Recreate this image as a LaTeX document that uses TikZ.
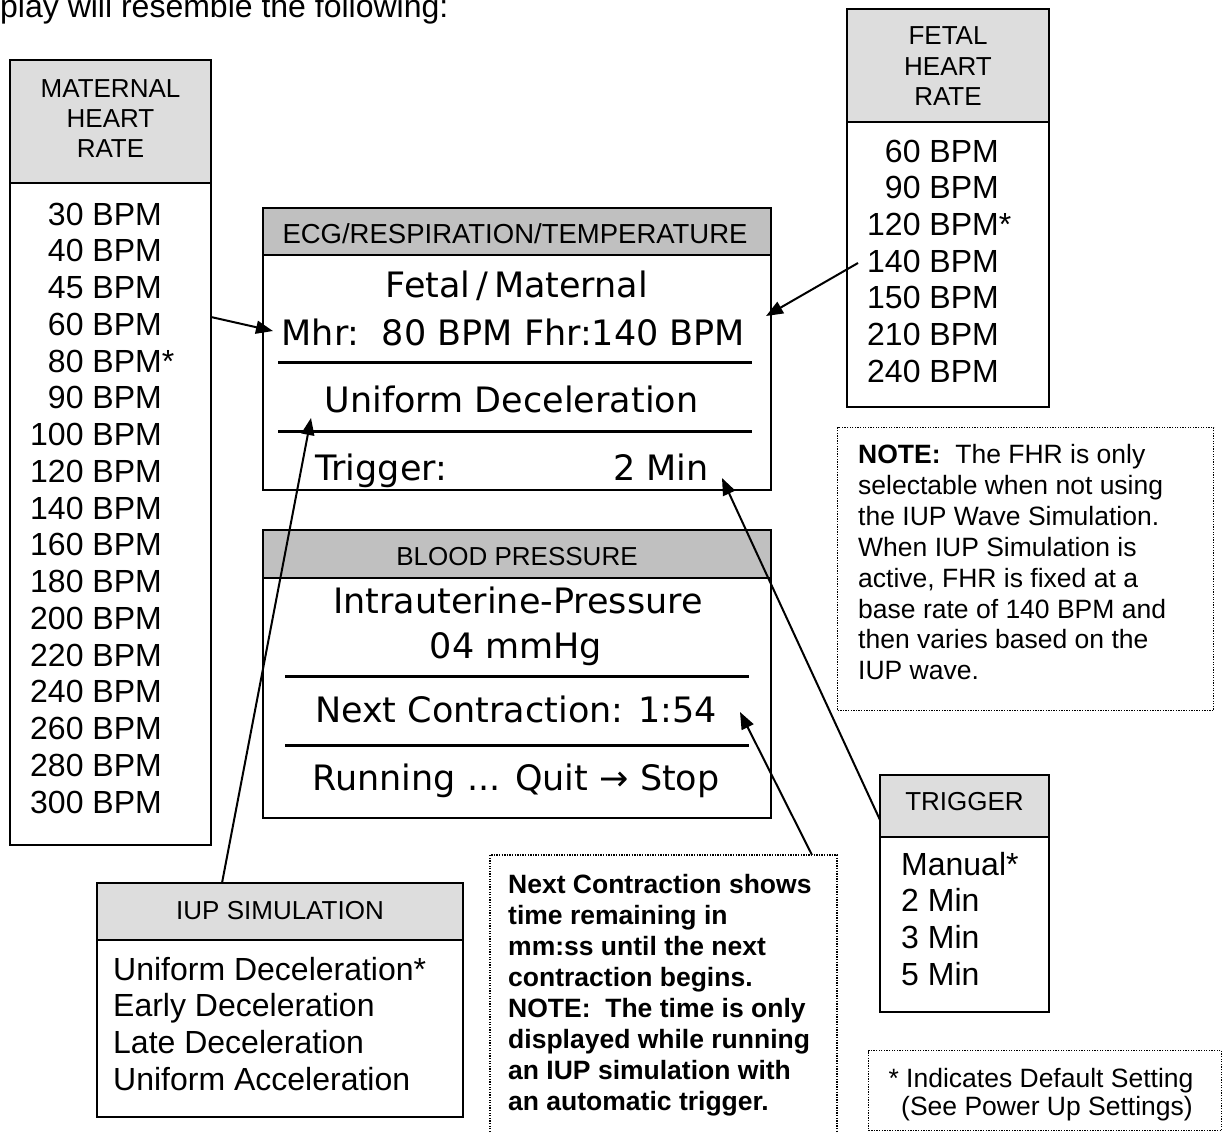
\documentclass[tikz,border=0pt]{standalone}
\usepackage{fontspec}
\setmainfont{Liberation Sans}
\newfontfamily\lcdfont{DejaVu Sans}
\usetikzlibrary{arrows.meta}
\definecolor{hdrlight}{HTML}{DDDDDD}
\definecolor{hdrdark}{HTML}{C0C0C0}
\newcommand{\fsz}[1]{\fontsize{#1}{#1}\selectfont}
\begin{document}
\begin{tikzpicture}[x=1pt,y=-1pt,
  boxframe/.style={draw=black,line width=2pt,fill=white,inner sep=0pt,outer sep=0pt,anchor=north west},
  hdrlt/.style={boxframe,fill=hdrlight},
  hdrdk/.style={boxframe,fill=hdrdark},
  itemtxt/.style={inner sep=0pt,font=\fsz{32}},
  hdrtxt/.style={inner sep=0pt,font=\fsz{26},anchor=base},
  lcdtxt/.style={inner sep=0pt,font=\lcdfont\fsz{35}},
  notetxt/.style={inner sep=0pt,font=\fsz{26.5},anchor=base west},
  dotbox/.style={draw=black,line width=1.3pt,dash pattern=on 1.3pt off 1.3pt},
  arr/.style={draw=black,line width=2pt,-{Triangle[length=17pt,width=13pt]}},
  sepline/.style={draw=black,line width=3pt}
]
\useasboundingbox (0,0) rectangle (1230,1132);

% intro text
\node[anchor=base west,inner sep=0pt,font=\fsz{32}] (intro) at (0,18) {play will resemble the following:};

% ---------- Maternal heart rate ----------
\node[boxframe,minimum width=201pt,minimum height=785pt] (mhr) at (10,60) {};
\node[hdrlt,minimum width=201pt,minimum height=123pt] (mhrh) at (10,60) {};
\node[hdrtxt] (mhrt1) at (110.5,97) {MATERNAL};
\node[hdrtxt] (mhrt2) at (110.5,127) {HEART};
\node[hdrtxt] (mhrt3) at (110.5,157) {RATE};
\foreach \v [count=\i from 0] in {{30 BPM},{40 BPM},{45 BPM},{60 BPM},{80 BPM\rlap{*}},{90 BPM},{100 BPM},{120 BPM},{140 BPM},{160 BPM},{180 BPM},{200 BPM},{220 BPM},{240 BPM},{260 BPM},{280 BPM},{300 BPM}}
  \node[itemtxt,anchor=base east] (mhri\i) at (162,{225+36.75*\i}) {\v};

% ---------- Fetal heart rate ----------
\node[boxframe,minimum width=202pt,minimum height=398pt] (fhr) at (847,9) {};
\node[hdrlt,minimum width=202pt,minimum height=113pt] (fhrh) at (847,9) {};
\node[hdrtxt] (fhrt1) at (948,45) {FETAL};
\node[hdrtxt] (fhrt2) at (948,75) {HEART};
\node[hdrtxt] (fhrt3) at (948,105) {RATE};
\foreach \v [count=\i from 0] in {{60 BPM},{90 BPM},{120 BPM\rlap{*}},{140 BPM},{150 BPM},{210 BPM},{240 BPM}}
  \node[itemtxt,anchor=base east] (fhri\i) at (999,{162+36.7*\i}) {\v};

% ---------- ECG display ----------
\node[boxframe,minimum width=508pt,minimum height=282pt] (ecg) at (263,208) {};
\node[hdrdk,minimum width=508pt,minimum height=47pt] (ecgh) at (263,208) {};
\node[hdrtxt,font=\fsz{27.5}] (ecght) at (515,243) {ECG/RESPIRATION/TEMPERATURE};
\node[lcdtxt,anchor=base] (ecgl1) at (517,297) {Fetal\,/\,Maternal};
\node[lcdtxt,anchor=base] (ecgl2) at (513.5,345) {Mhr:\ \ 80 BPM Fhr:140 BPM};
\draw[sepline] (278,362) -- (752,362);
\node[lcdtxt,anchor=base] (ecgl3) at (511.5,412) {Uniform Deceleration};
\draw[sepline] (278,431) -- (752,431);
\node[lcdtxt,anchor=base west] (ecgl4a) at (315,480) {Trigger:};
\node[lcdtxt,anchor=base east] (ecgl4b) at (709,480) {2 Min};

% ---------- Blood pressure display ----------
\node[boxframe,minimum width=508pt,minimum height=288pt] (bp) at (263,530) {};
\node[hdrdk,minimum width=508pt,minimum height=48pt] (bph) at (263,530) {};
\node[hdrtxt] (bpht) at (517,565) {BLOOD PRESSURE};
\node[lcdtxt,anchor=base] (bpl1) at (518,613) {Intrauterine-Pressure};
\node[lcdtxt,anchor=base] (bpl2) at (516,658) {04 mmHg};
\draw[sepline] (285,676) -- (749,676);
\node[lcdtxt,anchor=base] (bpl3) at (516,722) {Next Contraction: 1:54};
\draw[sepline] (285,745) -- (749,745);
\node[lcdtxt,anchor=base] (bpl4) at (516,790) {Running ... Quit → Stop};

% ---------- FHR note ----------
\node[dotbox,anchor=north west,inner sep=0pt,minimum width=376pt,minimum height=283pt] (fhrnote) at (837,427) {};
\foreach \v [count=\i from 0] in {{\textbf{NOTE:}\ \ The FHR is only},{selectable when not using},{the IUP Wave Simulation.},{When IUP Simulation is},{active, FHR is fixed at a},{base rate of 140 BPM and},{then varies based on the},{IUP wave.}}
  \node[notetxt] (fhrnotel\i) at (858,{463.5+30.9*\i}) {\v};

% ---------- Trigger ----------
\node[boxframe,minimum width=169pt,minimum height=237pt] (trg) at (880,775) {};
\node[hdrlt,minimum width=169pt,minimum height=62pt] (trgh) at (880,775) {};
\node[hdrtxt] (trgt) at (964.5,810) {TRIGGER};
\foreach \v [count=\i from 0] in {{Manual*},{2 Min},{3 Min},{5 Min}}
  \node[itemtxt,anchor=base west] (trgi\i) at (901,{875+36.7*\i}) {\v};

% ---------- IUP simulation ----------
\node[boxframe,minimum width=366pt,minimum height=234pt] (iup) at (97,883) {};
\node[hdrlt,minimum width=366pt,minimum height=57pt] (iuph) at (97,883) {};
\node[hdrtxt] (iupt) at (280,919) {IUP SIMULATION};
\foreach \v [count=\i from 0] in {{Uniform Deceleration*},{Early Deceleration},{Late Deceleration},{Uniform Acceleration}}
  \node[itemtxt,anchor=base west] (iupi\i) at (113,{980+36.7*\i}) {\v};

% ---------- Next contraction note (open at the bottom) ----------
\draw[dotbox] (490,1132) -- (490,855) -- (837,855) -- (837,1132);
\foreach \v [count=\i from 0] in {{Next Contraction shows},{time remaining in},{mm:ss until the next},{contraction begins.},{NOTE:\ \ The time is only},{displayed while running},{an IUP simulation with},{an automatic trigger.}}
  \node[notetxt,font=\fsz{26.5}\bfseries] (ncnote\i) at (508,{893.5+31*\i}) {\v};

% ---------- default note ----------
\node[dotbox,anchor=north west,inner sep=0pt,minimum width=353pt,minimum height=80pt] (defnote) at (868,1050) {};
\node[inner sep=0pt,font=\fsz{26.5},anchor=base] (defl1) at (1041,1087) {* Indicates Default Setting};
\node[inner sep=0pt,font=\fsz{26.5},anchor=base] (defl2) at (1047,1115) {(See Power Up Settings)};

% ---------- connectors ----------
\coordinate (a1s) at (211,317);  \coordinate (a1e) at (273,331);
\coordinate (a2s) at (858,263);  \coordinate (a2e) at (766,316);
\coordinate (a3s) at (222,883);  \coordinate (a3e) at (311,418);
\coordinate (a4s) at (880,820);  \coordinate (a4e) at (722,478);
\coordinate (a5s) at (812,855);  \coordinate (a5e) at (740,712);
\draw[arr] (a1s) -- (a1e);
\draw[arr] (a2s) -- (a2e);
\draw[arr] (a3s) -- (a3e);
\draw[arr] (a4s) -- (a4e);
\draw[arr] (a5s) -- (a5e);
\end{tikzpicture}
\end{document}
